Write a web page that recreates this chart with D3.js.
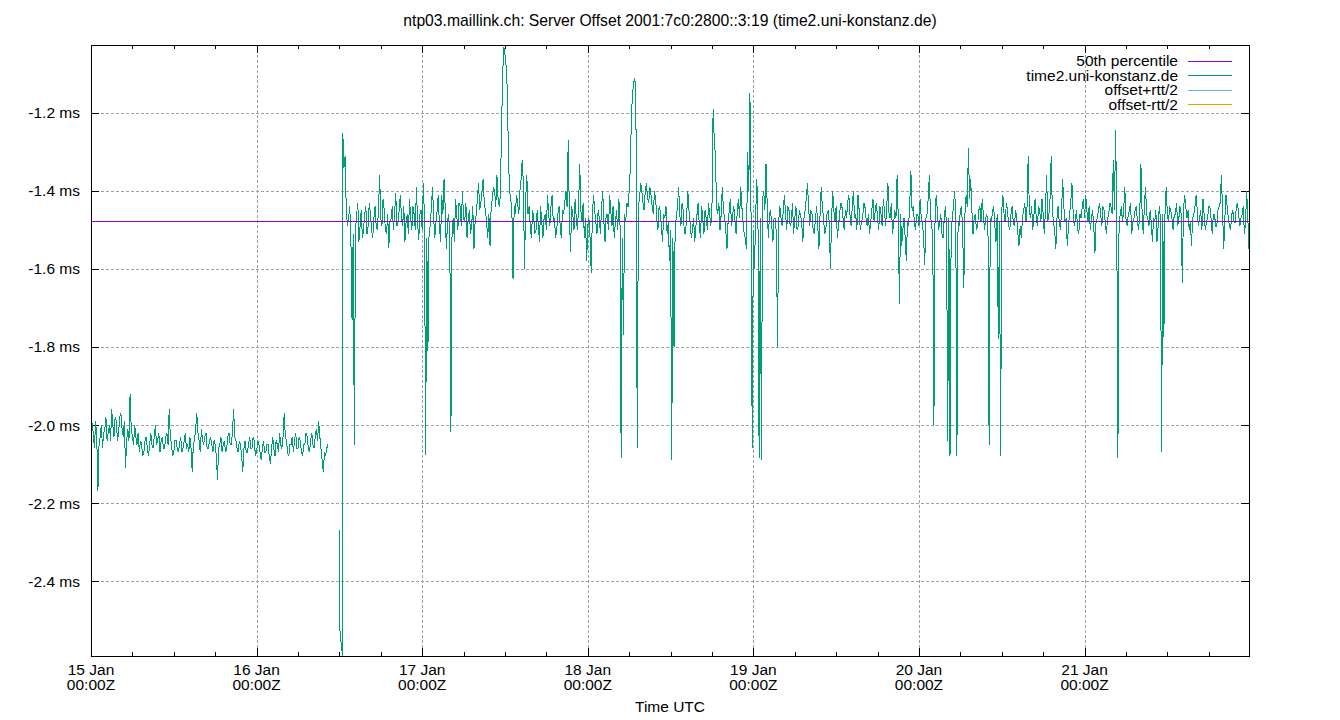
<!DOCTYPE html>
<html>
<head>
<meta charset="utf-8">
<script src="https://cdn.jsdelivr.net/npm/d3@7"></script>
<style>
  html, body { margin: 0; padding: 0; background: #fff; }
  svg { display: block; }
  text { font-family: "Liberation Sans", Arial, sans-serif; font-size: 15.5px; fill: #000; }
</style>
</head>
<body>
<svg id="chart" width="1340" height="720"></svg>
<script>
// ---------------- data ----------------
const chartTitle = "ntp03.maillink.ch: Server Offset 2001:7c0:2800::3:19 (time2.uni-konstanz.de)";
const xAxisLabel = "Time UTC";
const xDomain = ["2025-01-15T00:00:00Z", "2025-01-21T23:50:00Z"];
const yDomain = [-2.592, -1.026];
const yTickValues = [-2.4, -2.2, -2.0, -1.8, -1.6, -1.4, -1.2];
const stepMinutes = 10;
const median50 = -1.478;

const legendLabels = ["50th percentile", "time2.uni-konstanz.de", "offset+rtt/2", "offset-rtt/2"];

// first block: 15 Jan 00:00 .. 16 Jan ~10:20, every 10 minutes (ms)
const seg1Start = "2025-01-15T00:00:00Z";
const seg1Values = [
  -1.967, -2.00, -2.02, -2.06, -1.99, -2.03, -2.17, -2.05, -2.03, -2.00,
  -2.06, -2.02, -2.01, -1.98, -2.04, -2.02, -2.00, -2.04, -1.96, -2.00,
  -2.03, -1.98, -1.99, -2.04, -2.02, -1.98, -1.97, -2.01, -2.03, -1.99,
  -2.11, -2.04, -2.01, -2.04, -1.92, -2.01, -2.03, -2.05, -2.00, -2.03,
  -2.05, -2.02, -2.07, -2.04, -2.05, -2.08, -2.07, -2.04, -2.03, -2.06,
  -2.08, -2.05, -2.02, -2.05, -2.06, -2.03, -2.00, -2.05, -2.04, -2.02,
  -2.07, -2.04, -2.03, -2.06, -2.06, -2.03, -2.02, -2.05, -1.96, -2.03,
  -2.05, -2.08, -2.07, -2.04, -2.04, -2.06, -2.07, -2.05, -2.03, -2.07,
  -2.06, -2.04, -2.02, -2.06, -2.05, -2.07, -2.03, -2.06, -2.12, -2.05,
  -2.04, -2.01, -1.97, -2.02, -2.04, -2.07, -2.01, -2.04, -2.05, -2.03,
  -2.02, -2.06, -2.06, -2.04, -2.03, -2.05, -2.07, -2.04, -2.05, -2.08,
  -2.14, -2.06, -2.05, -2.03, -2.07, -2.05, -2.04, -2.07, -2.06, -2.03,
  -2.02, -2.05, -2.05, -2.02, -1.96, -2.03, -2.04, -2.06, -2.07, -2.04,
  -2.05, -2.08, -2.12, -2.06, -2.04, -2.07, -2.07, -2.05, -2.03, -2.06,
  -2.06, -2.03, -2.04, -2.08, -2.07, -2.04, -2.05, -2.07, -2.09, -2.06,
  -2.04, -2.07, -2.07, -2.05, -2.05, -2.08, -2.10, -2.06, -2.03, -2.06,
  -2.08, -2.04, -2.05, -2.07, -2.02, -2.05, -2.06, -2.03, -1.97, -2.03,
  -2.04, -2.07, -2.08, -2.05, -2.05, -2.03, -2.07, -2.04, -2.02, -2.06,
  -2.06, -2.03, -2.04, -2.07, -2.08, -2.05, -2.05, -2.02, -2.03, -2.06,
  -2.07, -2.04, -2.02, -2.05, -2.06, -2.03, -2.01, -2.04, -1.99, -2.03,
  -2.06, -2.09, -2.12, -2.07, -2.08, -2.06, -2.05
];

// transition around 16 Jan 12:00
const transTimes = ["2025-01-16T11:59:00Z", "2025-01-16T12:02:00Z", "2025-01-16T12:07:00Z",
                    "2025-01-16T12:12:00Z", "2025-01-16T12:18:00Z", "2025-01-16T12:25:00Z",
                    "2025-01-16T12:29:00Z"];
const transValues = [-2.27, -2.52, -2.53, -2.55, -2.57, -2.585, -2.592];

// main block: 16 Jan 12:30 .. 21 Jan 23:50, every 10 minutes (ms)
const seg3Start = "2025-01-16T12:30:00Z";
const seg3Values = [
  -1.252, -1.34, -1.31, -1.45, -1.49, -1.47, -1.44, -1.52, -1.73, -1.51,
  -2.05, -1.50, -1.46, -1.43, -1.53, -1.49, -1.45, -1.52, -1.50, -1.46,
  -1.44, -1.51, -1.49, -1.43, -1.46, -1.50, -1.52, -1.47, -1.44, -1.49,
  -1.50, -1.45, -1.36, -1.47, -1.49, -1.42, -1.45, -1.50, -1.51, -1.46,
  -1.545, -1.48, -1.47, -1.44, -1.50, -1.46, -1.405, -1.49, -1.48, -1.45,
  -1.41, -1.47, -1.49, -1.44, -1.53, -1.48, -1.46, -1.51, -1.42, -1.47,
  -1.50, -1.44, -1.46, -1.50, -1.39, -1.48, -1.525, -1.46, -1.45, -1.50,
  -1.38, -1.47, -2.077, -1.52, -1.81, -1.50, -1.49, -1.44, -1.39, -1.47,
  -1.52, -1.48, -1.45, -1.41, -1.49, -1.53, -1.41, -1.46, -1.37, -1.44,
  -1.55, -1.48, -1.46, -1.51, -2.018, -1.49, -1.47, -1.53, -1.42, -1.46,
  -1.50, -1.43, -1.44, -1.49, -1.40, -1.47, -1.48, -1.43, -1.52, -1.47,
  -1.45, -1.51, -1.49, -1.44, -1.55, -1.48, -1.46, -1.42, -1.38, -1.45,
  -1.43, -1.40, -1.37, -1.43, -1.45, -1.48, -1.52, -1.46, -1.54, -1.44,
  -1.42, -1.39, -1.40, -1.44, -1.36, -1.42, -1.44, -1.41, -1.24, -1.10,
  -1.03, -1.05, -1.08, -1.14, -1.31, -1.40, -1.42, -1.45, -1.626, -1.44,
  -1.46, -1.41, -1.43, -1.46, -1.40, -1.37, -1.32, -1.38, -1.60, -1.42,
  -1.36, -1.46, -1.44, -1.49, -1.52, -1.45, -1.47, -1.51, -1.50, -1.45,
  -1.49, -1.53, -1.44, -1.48, -1.52, -1.47, -1.46, -1.50, -1.41, -1.46,
  -1.49, -1.44, -1.41, -1.48, -1.47, -1.52, -1.50, -1.46, -1.44, -1.49,
  -1.52, -1.45, -1.46, -1.43, -1.40, -1.44, -1.27, -1.46, -1.557, -1.44,
  -1.46, -1.50, -1.42, -1.47, -1.50, -1.44, -1.33, -1.45, -1.48, -1.43,
  -1.52, -1.47, -1.58, -1.49, -1.47, -1.52, -1.61, -1.46, -1.41, -1.45,
  -1.48, -1.51, -1.45, -1.47, -1.51, -1.44, -1.40, -1.48, -1.53, -1.46,
  -1.46, -1.50, -1.41, -1.45, -1.49, -1.44, -1.52, -1.48, -1.45, -1.50,
  -1.42, -1.47, -2.084, -1.52, -1.77, -1.46, -1.48, -1.43, -1.44, -1.40,
  -1.34, -1.20, -1.15, -1.12, -1.11, -1.25, -2.06, -1.44, -1.42, -1.38,
  -1.40, -1.43, -1.45, -1.40, -1.38, -1.42, -1.43, -1.39, -1.41, -1.44,
  -1.46, -1.40, -1.42, -1.47, -1.50, -1.44, -1.45, -1.49, -1.53, -1.46,
  -1.47, -1.44, -1.51, -1.48, -1.58, -1.50, -2.09, -1.52, -1.80, -1.49,
  -1.47, -1.44, -1.39, -1.46, -1.49, -1.43, -1.45, -1.51, -1.51, -1.46,
  -1.40, -1.45, -1.48, -1.52, -1.50, -1.47, -1.53, -1.49, -1.46, -1.43,
  -1.49, -1.52, -1.44, -1.47, -1.51, -1.45, -1.47, -1.50, -1.43, -1.46,
  -1.49, -1.44, -1.19, -1.27, -1.31, -1.44, -1.46, -1.43, -1.50, -1.46,
  -1.39, -1.45, -1.47, -1.50, -1.55, -1.48, -1.45, -1.42, -1.49, -1.46,
  -1.44, -1.48, -1.51, -1.45, -1.42, -1.47, -1.39, -1.44, -1.48, -1.51,
  -1.52, -1.55, -1.30, -1.40, -1.15, -1.47, -2.06, -1.50, -1.60, -1.46,
  -1.37, -1.48, -2.084, -1.47, -2.09, -1.42, -1.40, -1.45, -1.33, -1.43,
  -1.52, -1.46, -1.45, -1.49, -1.53, -1.47, -1.47, -1.51, -1.80, -1.48,
  -1.44, -1.47, -1.49, -1.45, -1.41, -1.46, -1.50, -1.44, -1.45, -1.49,
  -1.48, -1.43, -1.51, -1.47, -1.44, -1.50, -1.49, -1.45, -1.46, -1.48,
  -1.53, -1.47, -1.45, -1.42, -1.38, -1.44, -1.49, -1.45, -1.46, -1.50,
  -1.51, -1.47, -1.44, -1.49, -1.55, -1.46, -1.39, -1.44, -1.47, -1.51,
  -1.50, -1.46, -1.45, -1.48, -1.60, -1.47, -1.40, -1.45, -1.48, -1.44,
  -1.52, -1.49, -1.46, -1.43, -1.44, -1.47, -1.50, -1.45, -1.47, -1.43,
  -1.41, -1.46, -1.49, -1.44, -1.40, -1.47, -1.46, -1.50, -1.41, -1.45,
  -1.50, -1.48, -1.47, -1.43, -1.44, -1.47, -1.49, -1.46, -1.51, -1.48,
  -1.45, -1.42, -1.48, -1.45, -1.43, -1.47, -1.50, -1.44, -1.46, -1.49,
  -1.42, -1.45, -1.49, -1.44, -1.38, -1.46, -1.47, -1.43, -1.51, -1.48,
  -1.45, -1.47, -1.36, -1.47, -1.69, -1.46, -1.54, -1.50, -1.47, -1.52,
  -1.58, -1.48, -1.49, -1.43, -1.35, -1.45, -1.44, -1.48, -1.50, -1.46,
  -1.46, -1.49, -1.42, -1.47, -1.48, -1.52, -1.59, -1.47, -1.46, -1.42,
  -1.36, -1.46, -1.49, -1.51, -2.00, -1.46, -1.41, -1.45, -1.50, -1.48,
  -1.46, -1.51, -1.52, -1.47, -1.44, -1.49, -2.04, -1.47, -2.08, -1.50,
  -1.47, -1.44, -1.40, -1.46, -2.08, -1.48, -1.49, -1.45, -1.44, -1.50,
  -1.65, -1.46, -1.41, -1.44, -1.29, -1.42, -1.37, -1.45, -1.51, -1.47,
  -1.46, -1.50, -1.49, -1.45, -1.44, -1.48, -1.42, -1.46, -1.50, -1.47,
  -1.46, -1.49, -2.05, -1.47, -1.48, -1.45, -1.44, -1.49, -1.53, -1.46,
  -1.78, -1.48, -2.08, -1.45, -1.41, -1.46, -1.48, -1.43, -1.45, -1.49,
  -1.50, -1.46, -1.44, -1.48, -1.49, -1.45, -1.47, -1.51, -1.54, -1.49,
  -1.52, -1.47, -1.45, -1.43, -1.48, -1.44, -1.31, -1.45, -1.47, -1.44,
  -1.50, -1.46, -1.42, -1.47, -1.49, -1.44, -1.45, -1.48, -1.42, -1.46,
  -1.51, -1.45, -1.36, -1.48, -1.46, -1.42, -1.31, -1.45, -1.48, -1.50,
  -1.55, -1.47, -1.44, -1.48, -1.50, -1.45, -1.37, -1.44, -1.48, -1.47,
  -1.54, -1.49, -1.46, -1.43, -1.38, -1.45, -1.49, -1.47, -1.45, -1.50,
  -1.51, -1.46, -1.47, -1.44, -1.42, -1.47, -1.41, -1.45, -1.48, -1.44,
  -1.50, -1.47, -1.45, -1.49, -1.56, -1.48, -1.47, -1.45, -1.43, -1.46,
  -1.49, -1.44, -1.45, -1.48, -1.51, -1.47, -1.46, -1.43, -1.44, -1.46,
  -1.32, -1.45, -1.244, -1.47, -2.085, -1.49, -1.46, -1.44, -1.48, -1.45,
  -1.39, -1.47, -1.49, -1.46, -1.45, -1.43, -1.51, -1.48, -1.47, -1.45,
  -1.44, -1.48, -1.50, -1.46, -1.33, -1.45, -1.51, -1.44, -1.39, -1.46,
  -1.47, -1.49, -1.45, -1.48, -1.53, -1.47, -1.48, -1.45, -1.53, -1.49,
  -1.44, -1.47, -2.07, -1.46, -1.775, -1.45, -1.39, -1.46, -1.48, -1.44,
  -1.45, -1.47, -1.50, -1.46, -1.46, -1.43, -1.49, -1.47, -1.44, -1.46,
  -1.636, -1.45, -1.41, -1.44, -1.47, -1.45, -1.50, -1.48, -1.54, -1.47,
  -1.46, -1.44, -1.41, -1.45, -1.49, -1.47, -1.45, -1.50, -1.42, -1.46,
  -1.50, -1.48, -1.47, -1.44, -1.44, -1.47, -1.51, -1.46, -1.46, -1.49,
  -1.49, -1.45, -1.44, -1.43, -1.36, -1.45, -1.55, -1.47, -1.41, -1.44,
  -1.47, -1.49, -1.50, -1.46, -1.45, -1.48, -1.48, -1.44, -1.43, -1.46,
  -1.49, -1.47, -1.46, -1.44, -1.51, -1.48, -1.40, -1.47, -1.55
];

// ---------------- styles ----------------
const colors = { median: "#9400d3", server: "#009e73", plus: "#56b4e9", minus: "#e69f00" };
const legendColors = [colors.median, colors.server, colors.plus, colors.minus];
const M = { left: 91, right: 1249, top: 45, bottom: 656 };

// ---------------- build ----------------
const svg = d3.select("#chart");
const x = d3.scaleUtc().domain(xDomain.map(d => new Date(d))).range([M.left, M.right]);
const y = d3.scaleLinear().domain(yDomain).range([M.bottom, M.top]);

const stepMs = stepMinutes * 60 * 1000;
const seg1 = seg1Values.map((v, i) => ({ t: new Date(+new Date(seg1Start) + i * stepMs), v }));
const trans = transValues.map((v, i) => ({ t: new Date(transTimes[i]), v }));
const seg3 = seg3Values.map((v, i) => ({ t: new Date(+new Date(seg3Start) + i * stepMs), v }));

// grid
const days = d3.utcDay.range(new Date(xDomain[0]), new Date(xDomain[1]));
const minor = d3.utcHour.every(6).range(new Date(xDomain[0]), new Date(xDomain[1]));
const grid = svg.append("g").attr("stroke", "#a0a0a0").attr("stroke-width", 1)
  .attr("stroke-dasharray", "3,2").attr("shape-rendering", "crispEdges");
grid.selectAll("line.gx").data(days.slice(1)).join("line")
  .attr("x1", d => Math.round(x(d)) + 0.5).attr("x2", d => Math.round(x(d)) + 0.5)
  .attr("y1", M.top).attr("y2", M.bottom);
grid.selectAll("line.gy").data(yTickValues).join("line")
  .attr("y1", d => Math.round(y(d)) + 0.5).attr("y2", d => Math.round(y(d)) + 0.5)
  .attr("x1", M.left).attr("x2", M.right);

// ticks (mirrored)
const ticks = svg.append("g").attr("stroke", "#000").attr("stroke-width", 1).attr("shape-rendering", "crispEdges");
days.forEach(d => {
  const xx = Math.round(x(d)) + 0.5;
  ticks.append("line").attr("x1", xx).attr("x2", xx).attr("y1", M.bottom).attr("y2", M.bottom - 8);
  ticks.append("line").attr("x1", xx).attr("x2", xx).attr("y1", M.top).attr("y2", M.top + 8);
});
minor.filter(d => d.getUTCHours() !== 0).forEach(d => {
  const xx = Math.round(x(d)) + 0.5;
  ticks.append("line").attr("x1", xx).attr("x2", xx).attr("y1", M.bottom).attr("y2", M.bottom - 4);
  ticks.append("line").attr("x1", xx).attr("x2", xx).attr("y1", M.top).attr("y2", M.top + 4);
});
yTickValues.forEach(v => {
  const yy = Math.round(y(v)) + 0.5;
  ticks.append("line").attr("x1", M.left).attr("x2", M.left + 8).attr("y1", yy).attr("y2", yy);
  ticks.append("line").attr("x1", M.right).attr("x2", M.right - 8).attr("y1", yy).attr("y2", yy);
});

// tick labels
const fmtDay = d3.utcFormat("%-d %b");
const fmtTime = d3.utcFormat("%H:%MZ");
const xl = svg.append("g").attr("text-anchor", "middle");
days.forEach(d => {
  xl.append("text").attr("x", x(d)).attr("y", 675).text(fmtDay(d));
  xl.append("text").attr("x", x(d)).attr("y", 690).text(fmtTime(d));
});
const yFmt = v => v.toFixed(1) + " ms";
const yl = svg.append("g").attr("text-anchor", "end");
yTickValues.forEach(v => {
  yl.append("text").attr("x", 80).attr("y", y(v) + 5.5).text(yFmt(v));
});

// data lines
const line = d3.line().x(d => x(d.t)).y(d => y(d.v));
const plot = svg.append("g").attr("shape-rendering", "crispEdges");
plot.append("path").datum(seg1).attr("d", line).attr("fill", "none")
  .attr("stroke", colors.server).attr("stroke-width", 1);
plot.append("path").datum(trans.concat(seg3)).attr("d", line).attr("fill", "none")
  .attr("stroke", colors.server).attr("stroke-width", 1);
plot.append("line").attr("x1", M.left).attr("x2", M.right)
  .attr("y1", Math.round(y(median50)) + 0.5).attr("y2", Math.round(y(median50)) + 0.5)
  .attr("stroke", colors.median).attr("stroke-width", 1);

// border
svg.append("rect").attr("x", M.left + 0.5).attr("y", M.top + 0.5)
  .attr("width", M.right - M.left).attr("height", M.bottom - M.top)
  .attr("fill", "none").attr("stroke", "#000").attr("stroke-width", 1).attr("shape-rendering", "crispEdges");

// legend
const lg = svg.append("g");
legendLabels.forEach((lab, i) => {
  const yy = 60.5 + i * 14.6;
  lg.append("text").attr("x", 1178).attr("y", yy + 5.5).attr("text-anchor", "end").text(lab);
  lg.append("line").attr("x1", 1188).attr("x2", 1232).attr("y1", Math.round(yy) + 0.5).attr("y2", Math.round(yy) + 0.5)
    .attr("stroke", legendColors[i]).attr("stroke-width", 1).attr("shape-rendering", "crispEdges");
});

// titles
svg.append("text").attr("x", 670).attr("y", 25.5).attr("text-anchor", "middle")
  .style("font-size", "15.7px").text(chartTitle);
svg.append("text").attr("x", 670).attr("y", 711.5).attr("text-anchor", "middle").text(xAxisLabel);
</script>
</body>
</html>
